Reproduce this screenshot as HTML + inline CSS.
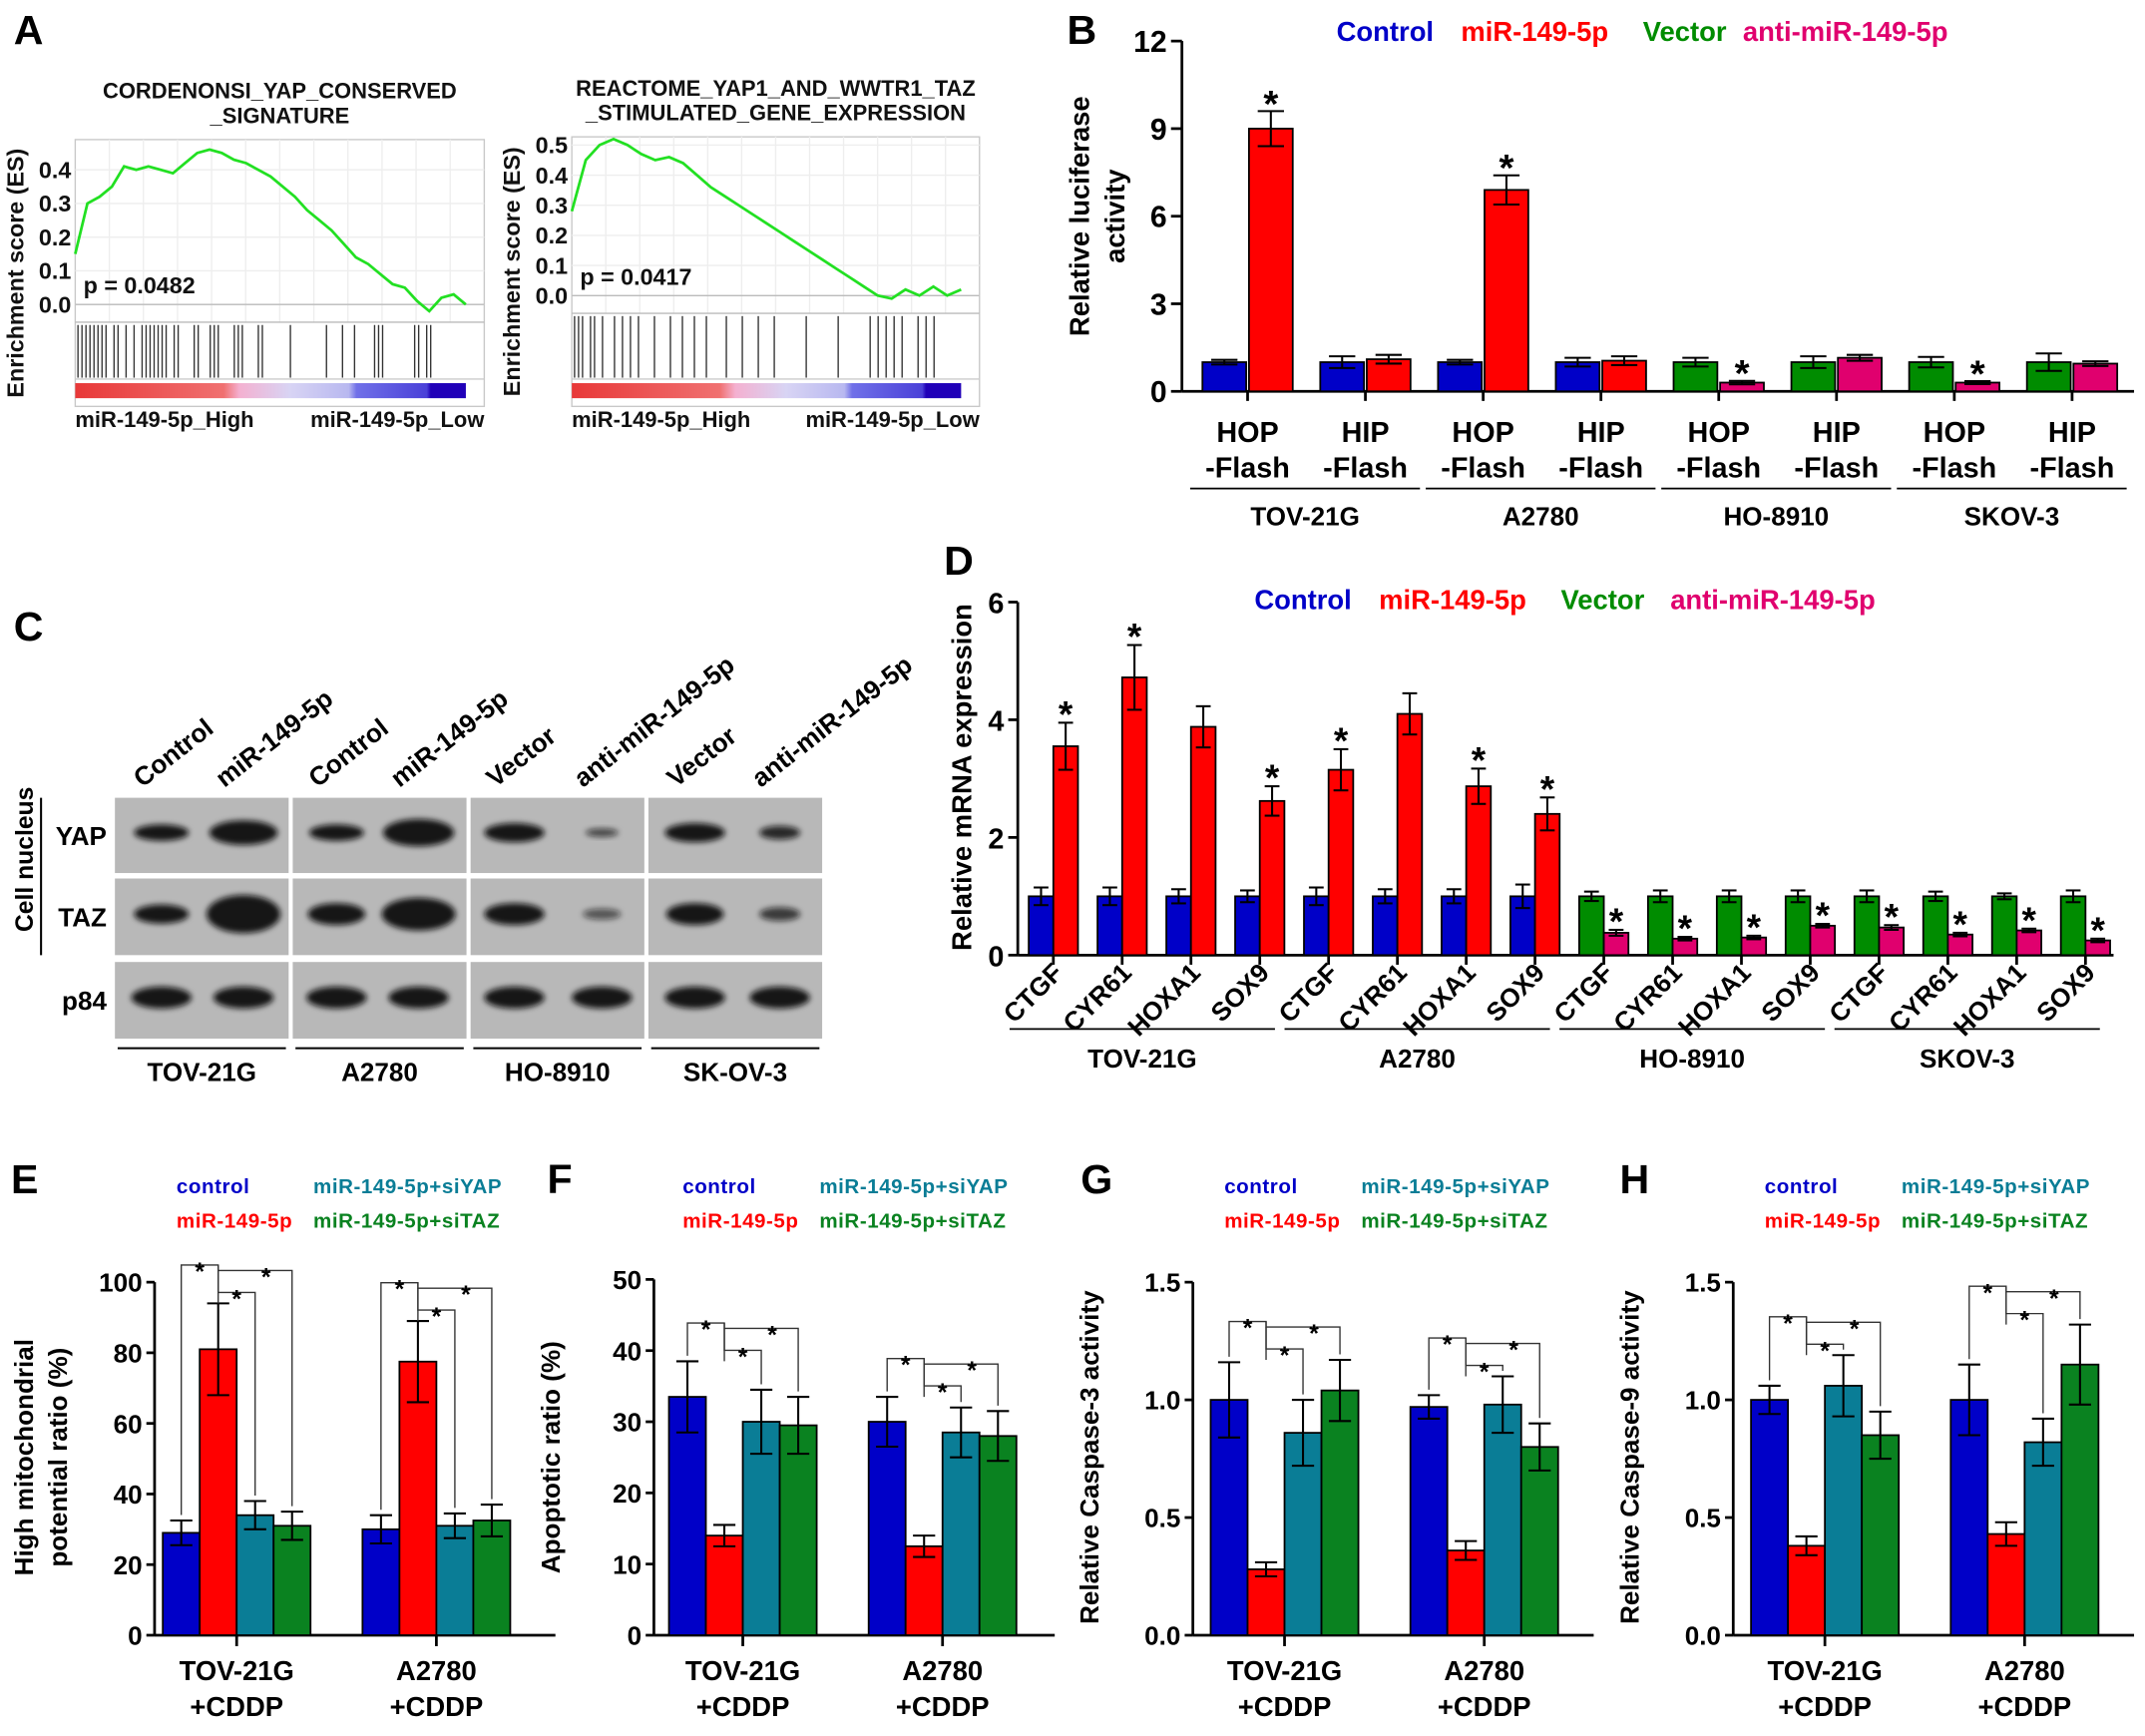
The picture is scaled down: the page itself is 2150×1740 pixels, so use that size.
<!DOCTYPE html>
<html><head><meta charset="utf-8"><style>
html,body{margin:0;padding:0;background:#fff;}
svg text{font-family:"Liberation Sans",Arial,sans-serif;font-weight:bold;}
</style></head><body>
<svg id="fig" xmlns="http://www.w3.org/2000/svg" width="2150" height="1735" viewBox="0 0 1568 1265" preserveAspectRatio="none">
<defs><filter id="blur" x="-50%" y="-50%" width="200%" height="200%"><feGaussianBlur stdDeviation="2.2"/></filter>
<linearGradient id="rankgrad" x1="0" x2="1"><stop offset="0" stop-color="#e83838"/><stop offset="0.38" stop-color="#f07070"/><stop offset="0.42" stop-color="#f4b0d0"/><stop offset="0.55" stop-color="#d8d4f4"/><stop offset="0.7" stop-color="#b8b8f0"/><stop offset="0.72" stop-color="#7070e8"/><stop offset="0.9" stop-color="#4a40d8"/><stop offset="0.91" stop-color="#2000b8"/><stop offset="1" stop-color="#2000b8"/></linearGradient></defs>
</svg>
<script>
// ---------- DATA ----------
const esLeft = [0.15,0.30,0.32,0.35,0.41,0.40,0.41,0.40,0.39,0.42,0.45,0.46,0.45,0.43,0.42,0.40,0.38,0.35,0.32,0.28,0.25,0.22,0.18,0.14,0.12,0.09,0.06,0.05,0.01,-0.02,0.02,0.03,0.0];
const hitsLeft = [0.0,0.01,0.02,0.03,0.04,0.05,0.06,0.07,0.09,0.1,0.12,0.14,0.16,0.17,0.18,0.19,0.2,0.21,0.22,0.24,0.25,0.29,0.3,0.33,0.34,0.35,0.39,0.4,0.41,0.45,0.46,0.53,0.62,0.66,0.69,0.74,0.75,0.76,0.84,0.85,0.87,0.88];
const esRight = [0.28,0.45,0.50,0.52,0.50,0.47,0.45,0.46,0.44,0.40,0.36,0.33,0.30,0.27,0.24,0.21,0.18,0.15,0.12,0.09,0.06,0.03,0.0,-0.01,0.02,0.0,0.03,0.0,0.02];
const hitsRight = [0.0,0.01,0.02,0.04,0.05,0.07,0.1,0.12,0.14,0.16,0.2,0.24,0.27,0.3,0.33,0.38,0.42,0.46,0.5,0.58,0.66,0.74,0.76,0.78,0.8,0.82,0.86,0.88,0.9];

const bCats = ["HOP","HIP","HOP","HIP","HOP","HIP","HOP","HIP"];
const bCtrl = [1.0,1.0,1.0,1.0,1.0,1.0,1.0,1.0];
const bCtrlErr = [0.08,0.2,0.08,0.15,0.15,0.2,0.18,0.3];
const bTreat = [9.0,1.1,6.9,1.05,0.3,1.15,0.3,0.95];
const bTreatErr = [0.6,0.15,0.5,0.15,0.06,0.1,0.05,0.08];
const bStar = [1,0,1,0,1,0,1,0];
const bTicks = [0,3,6,9,12];
const cellsB = ["TOV-21G","A2780","HO-8910","SKOV-3"];

const dGenes = ["CTGF","CYR61","HOXA1","SOX9","CTGF","CYR61","HOXA1","SOX9","CTGF","CYR61","HOXA1","SOX9","CTGF","CYR61","HOXA1","SOX9"];
const dCtrl = [1,1,1,1,1,1,1,1,1,1,1,1,1,1,1,1];
const dCtrlErr = [0.15,0.15,0.12,0.1,0.15,0.12,0.12,0.2,0.08,0.1,0.1,0.1,0.1,0.08,0.05,0.1];
const dTreat = [3.55,4.72,3.88,2.62,3.15,4.1,2.87,2.4,0.38,0.28,0.3,0.5,0.47,0.35,0.42,0.25];
const dTreatErr = [0.4,0.55,0.35,0.25,0.35,0.35,0.3,0.28,0.05,0.03,0.03,0.03,0.04,0.03,0.03,0.03];
const dStar = [1,1,0,1,1,0,1,1,1,1,1,1,1,1,1,1];
const dTicks = [0,2,4,6];
const cellsD = ["TOV-21G","A2780","HO-8910","SKOV-3"];

const eVals = [[29,81,34,31],[30,77.5,31,32.5]];
const eErr = [[3.5,13,4,4],[4,11.5,3.5,4.5]];
const fVals = [[33.5,14,30,29.5],[30,12.5,28.5,28]];
const fErr = [[5,1.5,4.5,4],[3.5,1.5,3.5,3.5]];
const gVals = [[1.0,0.28,0.86,1.04],[0.97,0.36,0.98,0.8]];
const gErr = [[0.16,0.03,0.14,0.13],[0.05,0.04,0.12,0.1]];
const hVals = [[1.0,0.38,1.06,0.85],[1.0,0.43,0.82,1.15]];
const hErr = [[0.06,0.04,0.13,0.1],[0.15,0.05,0.1,0.17]];
const ehGroups = ["TOV-21G","A2780"];

// ---------- helpers ----------
const svg = document.getElementById('fig');
const NS = 'http://www.w3.org/2000/svg';
function mk(tag, attrs, parent){const e=document.createElementNS(NS,tag);for(const k in attrs)e.setAttribute(k,attrs[k]);(parent||svg).appendChild(e);return e;}
function txt(x,y,s,size,fill,anchor,parent,extra){const t=mk('text',Object.assign({x:x,y:y,'font-size':size,fill:fill||'#000','text-anchor':anchor||'middle'},extra||{}),parent);t.textContent=s;return t;}
const BLUE='#0000c8', RED='#ff0000', GREEN='#008c00', MAG='#e0006e', TEAL='#0a7d96', GRN2='#0a8220';

// panel letters
[['A',10,32],['B',780,32],['C',10,468],['D',690,420],['E',8,872],['F',400,872],['G',790,872],['H',1184,872]].forEach(p=>{
 const t=txt(p[1],p[2],p[0],30,'#000','start');
 
 
});

// ---------- Panel A ----------
function gsea(x0,x1,yTop,zeroY,unit,ticks,es,hits,t1,t2,p,tag){
 const g=mk('g',{});
 
 
 txt((x0+x1)/2,yTop-30,t1,16,'#111','middle',g);
 txt((x0+x1)/2,yTop-12,t2,16,'#111','middle',g);
 const yHitTop=zeroY+13, yGrad=280, yBot=297;
 mk('rect',{x:x0,y:yTop,width:x1-x0,height:yBot-yTop,fill:'#fff',stroke:'#c8c8c8','stroke-width':1},g);
 for(let i=1;i<12;i++){const gx=x0+(x1-x0)*i/12;mk('line',{x1:gx,x2:gx,y1:yTop,y2:yHitTop,stroke:'#eee'},g);}
 ticks.forEach(v=>{const y=zeroY-v*unit;mk('line',{x1:x0,x2:x1,y1:y,y2:y,stroke:'#eee'},g);
  const t=txt(x0-3,y+6,v.toFixed(1),17,'#111','end',g);
  
  });
 mk('line',{x1:x0,x2:x1,y1:zeroY,y2:zeroY,stroke:'#bbb'},g);
 mk('line',{x1:x0,x2:x1,y1:yHitTop,y2:yHitTop,stroke:'#bbb'},g);
 mk('line',{x1:x0,x2:x1,y1:yGrad-3,y2:yGrad-3,stroke:'#ccc'},g);
 const xs=i=>x0+(x1-x0)*0.955*i/(es.length-1);
 const pts=es.map((v,i)=>xs(i).toFixed(1)+','+(zeroY-v*unit).toFixed(1)).join(' ');
 const pl=mk('polyline',{points:pts,fill:'none',stroke:'#22e022','stroke-width':2},g);
 
 
 hits.forEach(h=>{const hx=x0+2+(x1-x0-6)*h;const l=mk('line',{x1:hx,x2:hx,y1:yHitTop+2,y2:yGrad-4,stroke:'#333','stroke-width':1},g);
  
  });
 const gr=mk('rect',{x:x0,y:yGrad,width:(x1-x0)*0.955,height:11,fill:'url(#rankgrad)'},g);
 
 
 txt(x0+6,zeroY-8,p,17,'#111','start',g);
 txt(x0,312,'miR-149-5p_High',16,'#111','start',g);
 txt(x1,312,'miR-149-5p_Low',16,'#111','end',g);
 const yt=txt(0,0,'Enrichment score (ES)',17,'#111','middle',g,{transform:`translate(${x0-38},${(yTop+yBot)/2}) rotate(-90)`});
 
 
}
gsea(55,354,102,222.5,246,[0,0.1,0.2,0.3,0.4],esLeft,hitsLeft,'CORDENONSI_YAP_CONSERVED','_SIGNATURE','p = 0.0482','left');
gsea(418,716,100,216,220,[0,0.1,0.2,0.3,0.4,0.5],esRight,hitsRight,'REACTOME_YAP1_AND_WWTR1_TAZ','_STIMULATED_GENE_EXPRESSION','p = 0.0417','right');

// ---------- generic bar ----------
function bar(x,w,v,err,y0,ys,color,parent,name){
 const top=ys(v);
 const r=mk('rect',{x:x,y:top,width:w,height:y0-top,fill:color,stroke:'#000','stroke-width':1.3},parent);
 
 
 const cx=x+w/2,a=ys(v+err),b=ys(v-err);
 mk('line',{x1:cx,x2:cx,y1:a,y2:b,stroke:'#000','stroke-width':1.5},parent);
 mk('line',{x1:cx-w*0.3,x2:cx+w*0.3,y1:a,y2:a,stroke:'#000','stroke-width':1.5},parent);
 mk('line',{x1:cx-w*0.3,x2:cx+w*0.3,y1:b,y2:b,stroke:'#000','stroke-width':1.5},parent);
 return a;
}
function legend4(items,y,parent,size,ls){items.forEach(it=>{const t=txt(it[1],y,it[0],size,it[2],'start',parent,ls?{'letter-spacing':ls}:{});
 
 });}

// ---------- Panel B ----------
(function(){
 const g=mk('g',{});
 
 
 const ax=864,y0=286,ys=v=>y0-v*256/12;
 mk('line',{x1:ax,x2:ax,y1:ys(12),y2:y0,stroke:'#000','stroke-width':2},g);
 mk('line',{x1:ax,x2:1560,y1:y0,y2:y0,stroke:'#000','stroke-width':2},g);
 bTicks.forEach(v=>{mk('line',{x1:ax-8,x2:ax,y1:ys(v),y2:ys(v),stroke:'#000','stroke-width':2},g);
  const t=txt(ax-11,ys(v)+8,String(v),22,'#000','end',g);
  
  });
 const yt1=txt(0,0,'Relative luciferase',20,'#000','middle',g,{transform:`translate(796,158) rotate(-90)`});
 
 
 txt(0,0,'activity',20,'#000','middle',g,{transform:`translate(822,158) rotate(-90)`});
 legend4([['Control',977,BLUE],['miR-149-5p',1068,RED],['Vector',1201,GREEN],['anti-miR-149-5p',1274,MAG]],30,g,20);
 bCats.forEach((c,i)=>{
  const cx=912+i*86.1, grp=Math.floor(i/2);
  const c1=grp<2?BLUE:GREEN, c2=grp<2?RED:MAG;
  bar(cx-33,32,bCtrl[i],bCtrlErr[i],y0,ys,c1,g,'bar-control');
  const a=bar(cx+1,32,bTreat[i],bTreatErr[i],y0,ys,c2,g,'bar-treatment');
  if(bStar[i]){const s=txt(cx+17,a+4,'*',28,'#000','middle',g);
   
   }
  mk('line',{x1:cx,x2:cx,y1:y0,y2:y0+7,stroke:'#000','stroke-width':2},g);
  const t=txt(cx,323,c,21,'#000','middle',g);
  
  
  txt(cx,349,'-Flash',21,'#000','middle',g);
 });
 cellsB.forEach((c,k)=>{const xa=870+k*172.2;mk('line',{x1:xa,x2:xa+168,y1:357,y2:357,stroke:'#000','stroke-width':1.3},g);
  const t=txt(xa+84,384,c,19,'#000','middle',g);
  
  });
})();

// ---------- Panel C (western blot) ----------
(function(){
 const g=mk('g',{});
 
 
 const panels=[84,214,344,474], pw=127;
 const rows=[[583,55,'YAP'],[642,56,'TAZ'],[703,56,'p84']];
 const lanes=[[118,178],[246,306],[376,440],[508,570]];
 const laneLabels=[['Control','miR-149-5p'],['Control','miR-149-5p'],['Vector','anti-miR-149-5p'],['Vector','anti-miR-149-5p']];
 const bands={YAP:[[20,6,0.95],[25,9,0.95],[20,6,0.95],[26,10,0.95],[22,7,0.95],[12,3,0.7],[22,7,0.95],[15,5,0.85]],
  TAZ:[[20,7,0.95],[27,14,0.95],[21,8,0.95],[27,12,0.95],[22,8,0.95],[14,4,0.6],[21,8,0.95],[15,5,0.75]],
  p84:[[22,8,0.95],[22,8,0.95],[22,8,0.95],[22,8,0.95],[22,8,0.95],[22,8,0.95],[22,8,0.95],[22,8,0.95]]};
 rows.forEach(r=>{
  panels.forEach((px,pi)=>{
   const bg=mk('rect',{x:px,y:r[0],width:pw,height:r[1],fill:'#b8b8b8'},g);
   
   
   lanes[pi].forEach((lx,li)=>{const b=bands[r[2]][pi*2+li];
    const e=mk('ellipse',{cx:lx,cy:r[0]+r[1]/2-2,rx:b[0],ry:b[1],fill:'#111','fill-opacity':b[2],filter:'url(#blur)'},g);
    
    });
  });
  const t=txt(78,r[0]+r[1]/2+7,r[2],19,'#000','end',g);
  
  
 });
 mk('line',{x1:30,x2:30,y1:583,y2:698,stroke:'#000','stroke-width':1.5},g);
 txt(0,0,'Cell nucleus',18,'#000','middle',g,{transform:'translate(24,628) rotate(-90)'});
 lanes.forEach((ls,pi)=>ls.forEach((lx,li)=>{
  const t=txt(0,0,laneLabels[pi][li],19,'#000','start',g,{transform:`translate(${lx-14},${576}) rotate(-38)`});
  
  }));
 ['TOV-21G','A2780','HO-8910','SK-OV-3'].forEach((c,i)=>{
  mk('line',{x1:panels[i]+2,x2:panels[i]+pw-2,y1:766,y2:766,stroke:'#000','stroke-width':1.5},g);
  const t=txt(panels[i]+pw/2,790,c,19,'#000','middle',g);
  
  });
})();

// ---------- Panel D ----------
(function(){
 const g=mk('g',{});
 
 
 const ax=744,y0=698,ys=v=>y0-v*43;
 mk('line',{x1:ax,x2:ax,y1:ys(6),y2:y0,stroke:'#000','stroke-width':2},g);
 mk('line',{x1:ax,x2:1545,y1:y0,y2:y0,stroke:'#000','stroke-width':2},g);
 dTicks.forEach(v=>{mk('line',{x1:ax-7,x2:ax,y1:ys(v),y2:ys(v),stroke:'#000','stroke-width':2},g);
  const t=txt(ax-10,ys(v)+8,String(v),21,'#000','end',g);
  
  });
 const yt=txt(0,0,'Relative mRNA expression',20,'#000','middle',g,{transform:'translate(710,568) rotate(-90)'});
 
 
 legend4([['Control',917,BLUE],['miR-149-5p',1008,RED],['Vector',1141,GREEN],['anti-miR-149-5p',1221,MAG]],445,g,20);
 dGenes.forEach((c,i)=>{
  const cx=770+i*50.3, grp=Math.floor(i/4);
  const c1=grp<2?BLUE:GREEN, c2=grp<2?RED:MAG;
  bar(cx-18,18,dCtrl[i],dCtrlErr[i],y0,ys,c1,g,'bar-control');
  const a=bar(cx,18,dTreat[i],dTreatErr[i],y0,ys,c2,g,'bar-treatment');
  if(dStar[i]){const s=txt(cx+9,a+3,'*',27,'#000','middle',g);
   
   }
  mk('line',{x1:cx,x2:cx,y1:y0,y2:y0+7,stroke:'#000','stroke-width':2},g);
  const t=txt(0,0,c,19,'#000','end',g,{transform:`translate(${cx+8},${712}) rotate(-45)`});
  
  
 });
 cellsD.forEach((c,k)=>{const xa=738+k*201;mk('line',{x1:xa,x2:xa+194,y1:752,y2:752,stroke:'#000','stroke-width':1.3},g);
  const t=txt(xa+97,780,c,19,'#000','middle',g);
  
  });
})();

// ---------- Panels E-H ----------
function small(ax,ytop,max,step,dec,bx,vals,errs,titles,tag){
 const g=mk('g',{});
 
 
 const y0=1195,ys=v=>y0-v*(y0-ytop)/max, W=27, cols=[BLUE,RED,TEAL,GRN2];
 mk('line',{x1:ax,x2:ax,y1:ytop,y2:y0,stroke:'#000','stroke-width':2},g);
 mk('line',{x1:ax,x2:ax+293,y1:y0,y2:y0,stroke:'#000','stroke-width':2},g);
 for(let v=0;v<=max+1e-9;v+=step){const y=ys(v);mk('line',{x1:ax-6,x2:ax,y1:y,y2:y,stroke:'#000','stroke-width':2},g);
  const t=txt(ax-9,y+7,v.toFixed(dec),19,'#000','end',g);
  
  }
 titles.forEach((s,i)=>{const t=txt(0,0,s,19,'#000','middle',g,{transform:`translate(${ax-(titles.length===2?89:69)+i*25},1065) rotate(-90)`});
  
  });
 legend4([['control',bx+10,BLUE],['miR-149-5p+siYAP',bx+110,TEAL]],872,g,15,0.4);
 legend4([['miR-149-5p',bx+10,RED],['miR-149-5p+siTAZ',bx+110,GRN2]],897,g,15,0.4);
 const names=['bar-control','bar-mir-149-5p','bar-siyap','bar-sitaz'];
 vals.forEach((gv,gi)=>{
  const x0=bx+gi*146, tops=[];
  gv.forEach((v,k)=>{tops.push(bar(x0+k*W,W,v,errs[gi][k],y0,ys,cols[k],g,names[k]));});
  const cx=i=>x0+i*W+W/2;
  const hi=Math.min(...tops);
  const L1=hi-28, L2=hi-24, L3=hi-8;
  const br=(xa,xb,yb,ya,yz)=>mk('polyline',{points:`${xa},${ya} ${xa},${yb} ${xb},${yb} ${xb},${yz}`,fill:'none',stroke:'#333','stroke-width':1},g);
  br(cx(0),cx(1),L1,tops[0]-4,hi);
  br(cx(1),cx(3),L2,L1,tops[3]-4);
  br(cx(1),cx(2),L3,L2,tops[2]-4);
  [[ (cx(0)+cx(1))/2,L1],[(cx(1)+cx(3))/2+8,L2],[(cx(1)+cx(2))/2,L3]].forEach(p=>{const s=txt(p[0],p[1]+11,'*',18,'#000','middle',g);
   
   });
  mk('line',{x1:x0+2*W,x2:x0+2*W,y1:y0,y2:y0+8,stroke:'#000','stroke-width':2},g);
  const t=txt(x0+2*W,1228,ehGroups[gi],20,'#000','middle',g);
  
  
  txt(x0+2*W,1254,'+CDDP',20,'#000','middle',g);
 });
}
small(113,937,100,20,0,119,eVals,eErr,['High mitochondrial','potential ratio (%)'],'e');
small(478,935,50,10,0,489,fVals,fErr,['Apoptotic ratio (%)'],'f');
small(872,937,1.5,0.5,1,885,gVals,gErr,['Relative Caspase-3 activity'],'g');
small(1267,937,1.5,0.5,1,1280,hVals,hErr,['Relative Caspase-9 activity'],'h');
</script>
</body></html>
